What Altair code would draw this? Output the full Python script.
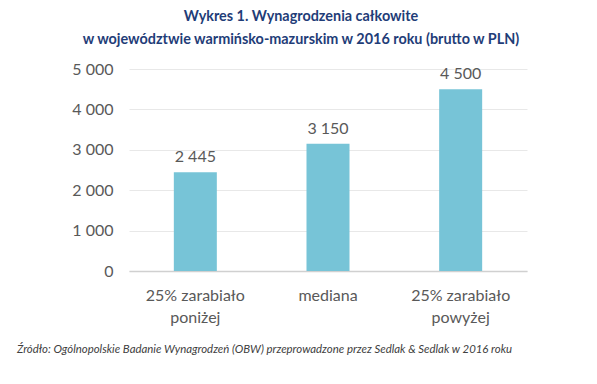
import altair as alt
import pandas as pd

categories = ["25% zarabiało\nponiżej", "mediana", "25% zarabiało\npowyżej"]
values = [2445, 3150, 4500]
y_ticks = [0, 1000, 2000, 3000, 4000, 5000]
title_lines = ["Wykres 1. Wynagrodzenia całkowite",
               "w województwie warmińsko-mazurskim w 2016 roku (brutto w PLN)"]
source_text = "Źródło: Ogólnopolskie Badanie Wynagrodzeń (OBW) przeprowadzone  przez  Sedlak & Sedlak w 2016 roku"

df = pd.DataFrame({"cat": categories, "val": values,
                   "lab": [f"{v:,}".replace(",", " ") for v in values]})

FONT = "Lato"
GRAY = "#595959"

x = alt.X("cat:N", sort=categories, title=None,
          scale=alt.Scale(paddingInner=0, paddingOuter=0),
          axis=alt.Axis(labelAngle=0, labelExpr="split(datum.label, '\\n')",
                        labelFontSize=16, labelColor=GRAY, labelFont=FONT,
                        labelPadding=16, labelLineHeight=22, ticks=False,
                        domainColor="#d0d0d0", domainWidth=1.5, grid=False))
y = alt.Y("val:Q", title=None,
          scale=alt.Scale(domain=[0, 5000], nice=False),
          axis=alt.Axis(values=y_ticks, labelExpr="replace(format(datum.value, ','), ',', ' ')",
                        labelFontSize=16, labelColor=GRAY, labelFont=FONT,
                        labelPadding=16, ticks=False, domain=False,
                        gridColor="#e8e8e8", gridWidth=1))

base = alt.Chart(df)
bars = base.mark_bar(size=43, color="#77C4D7").encode(x=x, y=y)
labels = base.mark_text(fontSize=16, font=FONT, color=GRAY, dy=-10,
                        baseline="alphabetic").encode(x=x, y=y, text="lab:N")
src = alt.Chart(pd.DataFrame({"t": [source_text]})).mark_text(
    fontSize=11.4, font=FONT, fontStyle="italic", color="#404040",
    align="left", baseline="middle").encode(
    x=alt.value(-112), y=alt.value(281), text="t:N")

chart = alt.layer(bars, labels, src).properties(
    width=398, height=202,
    title=alt.TitleParams(text=title_lines, font=FONT, fontSize=14.4,
                          fontWeight="bold", color="#1F3D78", anchor="middle",
                          dx=-27, offset=14, lineHeight=23),
    autosize=alt.AutoSizeParams(type="none"),
    padding={"left": 121, "top": 61, "right": 62, "bottom": 105},
).configure_view(stroke=None)

chart.save("out.html", embed_options={"renderer": "svg", "actions": False})
